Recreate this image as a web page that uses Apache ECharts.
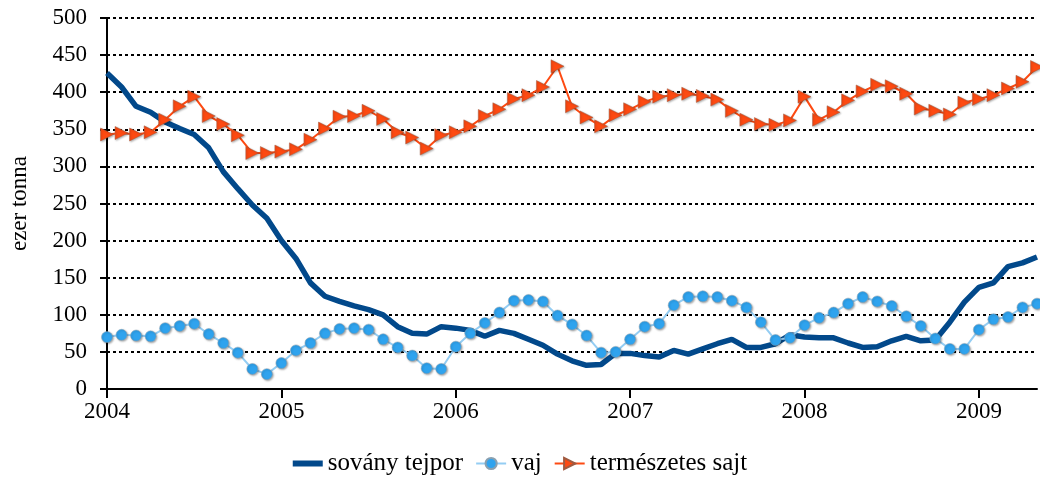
<!DOCTYPE html>
<html>
<head>
<meta charset="utf-8">
<script src="https://cdn.jsdelivr.net/npm/echarts@6/dist/echarts.min.js"></script>
<style>
  html, body { margin: 0; padding: 0; background: #fff; }
  #chart { width: 1040px; height: 485px; }
</style>
</head>
<body>
<div id="chart"></div>
<script>
// havi adatok 2004.01 - 2009.05
var years = ['2004', '2005', '2006', '2007', '2008', '2009'];

var tejpor = [
  426, 407, 381, 373, 360, 351, 343, 325, 293, 270, 248, 230,
  200, 176, 143, 125, 118, 112, 107, 100, 84, 75, 74, 84,
  82, 79, 71, 79, 75, 67, 59, 47, 38, 32, 33, 48,
  48, 45, 43, 52, 47, 54, 61, 67, 56, 56, 61, 73,
  70, 69, 69, 62, 56, 57, 65, 71, 65, 66, 90, 117,
  137, 143, 165, 170, 178
];

var vaj = [
  70, 73, 72, 71, 82, 85, 88, 74, 62, 49, 27, 20,
  35, 52, 62, 75, 81, 82, 80, 67, 56, 45, 28, 27,
  57, 75, 89, 103, 119, 120, 118, 99, 87, 72, 49, 50,
  67, 84, 88, 113, 124, 125, 124, 119, 110, 90, 66, 69,
  86, 96, 103, 115, 124, 118, 112, 98, 85, 68, 54, 54,
  80, 94, 97, 110, 115
];

var sajt = [
  343, 345, 343, 346, 363, 381, 394, 368, 357, 342, 318, 318,
  320, 323, 336, 351, 367, 368, 375, 364, 346, 339, 324, 342,
  346, 354, 368, 377, 391, 396, 407, 435, 381, 366, 354, 369,
  377, 387, 394, 396, 398, 395, 390, 375, 363, 357, 356, 362,
  394, 363, 373, 389, 401, 410, 408, 398, 378, 375, 370, 386,
  391, 396, 405, 414, 434
];

// kategóriák: minden hónap, címke csak januárnál
var months = [];
for (var i = 0; i < tejpor.length; i++) {
  months.push(i % 12 === 0 ? years[i / 12] : '');
}

var font = '"Liberation Serif", "DejaVu Serif", serif';
var everyYear = function (idx) { return idx % 12 === 0; };

var option = {
  animation: false,
  backgroundColor: '#fff',
  grid: { left: 105, right: 3, top: 18, bottom: 96 },
  legend: {
    bottom: 4,
    left: 'center',
    itemWidth: 30,
    itemHeight: 14,
    itemGap: 12,
    textStyle: { fontFamily: font, fontSize: 25, color: '#000' },
    data: [
      { name: 'sovány tejpor', icon: 'path://M0,0H30V6H0Z' },
      'vaj',
      'természetes sajt'
    ]
  },
  xAxis: {
    type: 'category',
    boundaryGap: false,
    data: months,
    axisLine: { lineStyle: { color: '#000', width: 2 } },
    axisTick: { length: 9, lineStyle: { color: '#000', width: 2 }, interval: everyYear },
    axisLabel: { interval: everyYear, margin: 11, fontFamily: font, fontSize: 23, color: '#000' },
    splitLine: { show: false }
  },
  yAxis: {
    type: 'value',
    min: 0, max: 500, interval: 50,
    name: 'ezer tonna',
    nameLocation: 'middle',
    nameGap: 76,
    nameTextStyle: { fontFamily: font, fontSize: 23, color: '#000' },
    axisLine: { show: true, lineStyle: { color: '#000', width: 2 } },
    axisTick: { show: true, length: 7, lineStyle: { color: '#000', width: 2 } },
    axisLabel: { margin: 20, fontFamily: font, fontSize: 23, color: '#000' },
    splitLine: { lineStyle: { color: '#000', width: 2, type: [3, 3] } }
  },
  series: [
    {
      name: 'sovány tejpor',
      type: 'line',
      data: tejpor,
      symbol: 'none',
      lineStyle: { color: '#02498b', width: 5.5 },
      itemStyle: { color: '#02498b' }
    },
    {
      name: 'vaj',
      type: 'line',
      data: vaj,
      showAllSymbol: true,
      symbol: 'circle',
      symbolSize: 11,
      lineStyle: { color: '#94cdf3', width: 2 },
      itemStyle: { color: '#2fa3ee', borderColor: '#8aa0b0', borderWidth: 0.5,
        shadowColor: 'rgba(0,0,0,0.35)', shadowBlur: 2, shadowOffsetX: 1, shadowOffsetY: 1 }
    },
    {
      name: 'természetes sajt',
      type: 'line',
      data: sajt,
      showAllSymbol: true,
      symbol: 'triangle',
      symbolRotate: -90,
      symbolSize: 13,
      lineStyle: { color: '#fd4a12', width: 2 },
      itemStyle: { color: '#fd4a12', borderColor: '#a05a40', borderWidth: 0.5,
        shadowColor: 'rgba(0,0,0,0.3)', shadowBlur: 2, shadowOffsetX: 1, shadowOffsetY: 1 }
    }
  ]
};

var chart = echarts.init(document.getElementById('chart'), null, { renderer: 'canvas' });
chart.setOption(option);
</script>
</body>
</html>
